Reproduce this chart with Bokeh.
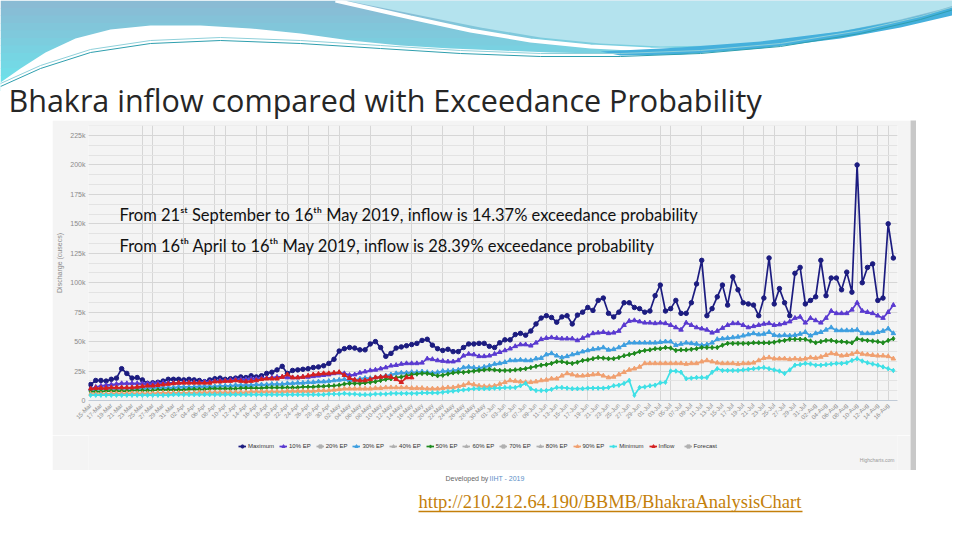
import pandas as pd
from bokeh.plotting import figure
from bokeh.layouts import column, row
from bokeh.models import Range1d, FixedTicker, Legend, LegendItem, Spacer
from bokeh.core.properties import value
from bokeh.embed import file_html
from bokeh.resources import INLINE

# ---------------- data (thousand cusecs) ----------------
start_date = "2019-03-15"
n_days = 156
date_labels = [d.strftime("%d-%b") for d in pd.date_range(start_date, periods=n_days, freq="D")]

maximum = [13.5, 17, 17, 16.5, 18, 19, 27, 23, 19, 19.5,
           17.5, 14.5, 15, 15.5, 16.5, 18, 18, 18, 17.5, 18,
           17.5, 17, 16, 17.5, 18.5, 19, 18, 18.5, 19, 20,
           19.5, 21, 20, 21, 23, 24, 26, 29, 23, 25.5,
           26, 26.5, 27, 28, 28.5, 29.5, 31.5, 35, 42, 44,
           45, 44.5, 43, 43, 48, 50, 45, 37.5, 40, 44.5,
           45.5, 46.5, 47.5, 48.5, 51, 52, 47, 44, 42.5, 43.5,
           41.5, 41.5, 45, 48, 48, 48.5, 48.5, 46, 45, 49,
           51.5, 51.5, 56, 57, 55.5, 59, 65, 70, 72, 70.5,
           66.5, 71, 72, 65, 72.5, 75, 79, 76.5, 85, 87,
           74, 71, 75, 83, 83, 79, 78, 75, 76, 89,
           98, 76, 78, 85, 74, 74, 83, 99, 119, 72,
           78, 88, 98, 81, 105, 94, 83, 82, 81, 72,
           87, 121, 82, 95, 83, 72, 108, 113, 82, 85,
           88, 119, 89, 104, 104, 94, 109, 92, 200, 100,
           113, 116, 85, 87, 150, 121]

ep10 = [10, 11.5, 12.5, 13, 13.5, 14, 14.5, 14.5, 14.5, 14.5,
        14.5, 14.5, 14.5, 15, 15, 15, 15, 15, 15.5, 15.5,
        15.5, 15.5, 16, 16, 16.5, 17, 17, 17.5, 18, 18,
        18, 18.5, 18.5, 19, 19, 19.5, 20, 20, 19.5, 19.5,
        19.5, 20, 20, 20.5, 21, 21.5, 22, 23, 23.5, 23,
        21.5, 22, 23.5, 24.5, 25.5, 26, 27, 28, 29.5, 30,
        31, 31.5, 31.5, 31.5, 32, 35.5, 35, 34, 33.5, 33,
        33, 34, 38, 39.5, 39, 37.5, 37.5, 38, 39.5, 41,
        42.5, 44, 46, 47.5, 47.5, 46.5, 49, 52, 53, 53.5,
        53, 52.5, 52.5, 52.5, 51, 53, 55, 57, 57.5, 58,
        57, 57.5, 59, 64, 67.5, 68, 67, 66, 66, 65.5,
        66, 65.5, 64, 62, 60, 66, 64, 62, 61, 60,
        57.5, 59, 61.5, 64, 65.5, 65.5, 64, 62, 63, 64,
        65, 65.5, 64, 64.5, 65.5, 67, 70, 71, 66, 70,
        68, 66, 70, 76, 74, 74, 74, 77, 83, 76,
        75, 74, 72, 70, 75, 81]

ep30 = [9.5, 9.5, 10, 10, 10, 10, 10.5, 10.5, 10.5, 10.5,
        10.5, 10.5, 11, 11, 11, 11, 11, 11.5, 11.5, 11.5,
        11.5, 12, 12, 12, 12, 12.5, 12.5, 12.5, 13, 13,
        13, 13, 13.5, 13.5, 13.5, 14, 14, 14, 14.5, 14.5,
        15, 15, 15.5, 15.5, 16, 16, 16.5, 17, 17.5, 18,
        17, 17.5, 18.5, 19, 19, 19.5, 20, 21, 22, 23,
        23.5, 23.5, 24, 24, 24.5, 24, 23.5, 24, 25, 25,
        25.5, 26, 28, 28.5, 28, 27.5, 28.5, 29.5, 31, 31.5,
        32.5, 34, 34, 34.5, 34, 34, 35.5, 36, 39, 40,
        38, 36.5, 37.5, 39, 40, 41.5, 42.5, 43.5, 44, 45,
        43, 43.5, 45, 47, 49, 49, 49, 49, 49, 49,
        49.5, 50, 50, 47, 48, 49, 48.5, 48, 47, 47.5,
        49, 52, 52.5, 53, 53.5, 54, 55, 56, 57, 56,
        56.5, 58, 55.5, 55, 55.5, 55, 55.5, 56.5, 58, 55,
        57, 58, 60, 62, 59.5, 59.5, 59.5, 59.5, 60, 57,
        57, 57, 58, 59, 61, 57]

ep50 = [7.5, 7.5, 7.5, 8, 8, 8, 8, 8, 8.5, 8.5,
        8.5, 8.5, 8.5, 9, 9, 9, 9, 9, 9, 9.5,
        9.5, 9.5, 9.5, 10, 10, 10, 10, 10, 10, 10.5,
        10.5, 10.5, 10.5, 10.5, 11, 11, 11, 11, 11, 11,
        11, 11.5, 11.5, 11.5, 12, 12, 12.5, 12.5, 13, 14,
        14.5, 14.5, 14.5, 15, 15.5, 16, 17, 18, 18.5, 19.5,
        20, 21, 22, 22.5, 23, 23, 22, 21, 21.5, 22.5,
        23.5, 24, 24, 24.5, 25, 25.5, 26, 26.5, 26, 25.5,
        25.5, 25.5, 26, 26.5, 27, 28, 29, 30, 30.5, 31.5,
        33, 33, 32, 31.5, 32.5, 34, 34.5, 35.5, 36.5, 36,
        35.5, 35.5, 36.5, 38, 39, 40, 41.5, 42.5, 43, 44,
        44, 45, 44.5, 42.5, 43, 43, 43.5, 44, 45, 45,
        45, 45, 47, 48.5, 48.5, 48.5, 48.5, 48.5, 49, 49,
        49, 49, 49.5, 50.5, 51, 52, 52, 52, 52, 50.5,
        49, 50, 51, 51, 50, 50, 49.5, 49, 52.5, 51.5,
        51, 50.5, 50, 49, 51, 52.5]

ep90 = [5.5, 5.5, 5.5, 5.5, 6, 6, 6, 6, 6, 6,
        6, 6, 6, 6.5, 6.5, 6.5, 6.5, 6.5, 6.5, 6.5,
        6.5, 7, 7, 7, 7, 7, 7, 7, 7, 7,
        7, 7.5, 7.5, 7.5, 7.5, 7.5, 7.5, 7.5, 8, 8,
        8, 8, 8, 8, 8.5, 8.5, 8.5, 9, 9.5, 10,
        10, 10, 10, 10, 10, 10.5, 10.5, 11, 11, 11,
        11, 11, 10.5, 10.5, 10.5, 10, 10, 10, 10.5, 11,
        11, 12, 13, 14.5, 13.5, 12.5, 12, 12, 12.5, 14,
        15.5, 17, 16.5, 16, 15.5, 15.5, 16, 17, 17.5, 18.5,
        18.5, 21, 23, 22, 21, 21, 21.5, 22, 22.5, 21,
        19.5, 20, 22, 24, 26, 27, 28.5, 31.5, 31.5, 31.5,
        31.5, 31.5, 31.5, 31.5, 31.5, 31, 31.5, 31.5, 33, 34,
        33, 32, 31.5, 31.5, 31.5, 31, 31.5, 31.5, 32, 34,
        36, 36.5, 35.5, 35.5, 35.5, 35, 35.5, 35, 35.5, 36.5,
        36, 37, 38.5, 40, 39.5, 38, 38.5, 39.5, 41, 39.5,
        39, 38.5, 38, 38, 37.5, 35.5]

minimum = [4.5, 4.5, 4.5, 4.5, 4.5, 4.5, 4.5, 4.5, 4.5, 4.5,
           4.5, 4.5, 4.5, 4.5, 4.5, 4.5, 5, 5, 5, 5,
           5, 5, 5, 5, 5, 5, 5, 5, 5, 5,
           5, 5, 5, 5, 5, 5, 5, 5, 5, 5,
           5, 5, 5, 5, 5, 5, 5.5, 5.5, 5.5, 6,
           5.5, 5.5, 5, 5, 5, 5.5, 5.5, 5.5, 6, 6,
           6, 6, 6, 6, 6.5, 6.5, 6.5, 6.5, 7, 7.5,
           8, 8.5, 9, 9.5, 10, 10, 10, 10, 10.5, 10.5,
           11, 11, 11, 12.5, 14.5, 10, 8.5, 8.5, 8.5, 9.5,
           11, 11, 10.5, 10, 10, 10, 10.5, 10.5, 10.5, 10.5,
           11, 12.5, 13, 14.5, 17, 4.5, 11, 11.5, 12.5, 13,
           15, 15.5, 25, 25, 24, 18.5, 19, 19.5, 19.5, 19.5,
           24, 27, 25.5, 25.5, 25.5, 25.5, 26, 26.5, 27, 27.5,
           28, 27, 26, 25, 23, 26, 30, 30.5, 31.5, 31,
           30, 30, 30.5, 31, 31.5, 31.5, 32, 34, 35.5, 33.5,
           32, 31, 30, 28.5, 27, 25.5]

inflow = [10, 10.5, 10.5, 10.5, 11, 11, 11, 11, 11, 11.5,
          12, 12.5, 12.5, 13, 13.5, 14, 14.5, 15, 15, 15,
          15, 15, 15, 15, 16, 16, 16.5, 16.5, 17, 16.5,
          16, 16.5, 17, 18, 18.5, 18.5, 18.5, 20, 22, 19.5,
          19.5, 20, 21, 22, 22.5, 23, 23, 23.5, 24, 21.5,
          19, 17.5, 17, 17, 18, 19.5, 20, 20.5, 20, 18,
          15.5, 19.5, 19.5]

y_ticks = [0, 25, 50, 75, 100, 125, 150, 175, 200, 225]
y_tick_labels = ["0", "25k", "50k", "75k", "100k", "125k", "150k", "175k", "200k", "225k"]

note1 = "From 21\u02e2\u1d57 September to 16\u1d57\u02b0 May 2019, inflow is 14.37% exceedance probability"
note2 = "From 16\u1d57\u02b0 April to 16\u1d57\u02b0 May 2019, inflow is 28.39% exceedance probability"

# ---------------- header (slide banner + title) ----------------
hdr = figure(width=952, height=120, x_range=Range1d(0, 952), y_range=Range1d(120, 0),
             x_axis_type=None, y_axis_type=None, output_backend="svg",
             toolbar_location=None, min_border=0)
hdr.grid.visible = False
hdr.outline_line_color = None
hdr.background_fill_color = "white"
hdr.border_fill_color = "white"

top_c = (0x8a, 0xbb, 0xd4)
bot_c = (0x6c, 0xe4, 0xec)
nstr = 12
cols = []
for k in range(nstr):
    t = k / (nstr - 1)
    c = tuple(int(top_c[j] + (bot_c[j] - top_c[j]) * t) for j in range(3))
    cols.append("#%02x%02x%02x" % c)
hdr.quad(left=[0] * nstr, right=[960] * nstr, top=[k * 7.5 for k in range(nstr)],
         bottom=[(k + 1) * 7.5 + 0.6 for k in range(nstr)], fill_color=cols, line_color=None)

blob_x = [345, 420, 480, 540, 600, 660, 720, 780, 840, 900, 940, 960, 960]
blob_y = [0, 15, 27, 37, 43, 46, 45, 40, 31, 19, 9, 3, 0]
hdr.patch(blob_x, blob_y, fill_color="#b4e3ee", line_color=None)
hdr.line([335, 410, 470, 530, 590, 650, 700], [0, 17, 30, 40, 46, 49, 50], line_color="white", line_width=4)

bx = [0, 20, 45, 75, 110, 150, 200, 250, 300, 350, 400, 450, 500, 550, 600, 650, 700, 750, 800, 850, 900, 940, 960]
by = [82, 68, 52, 38, 29, 25, 25, 28, 33, 40, 45, 48, 50, 52, 53, 52, 50, 46, 41, 33, 23, 13, 6]
hdr.patch(bx + [960, 0], by + [125, 125], fill_color="white", line_color=None)

sw_x = [600, 680, 760, 840, 900, 960, 960, 900, 840, 760, 680, 620]
sw_y = [51, 47, 41, 31, 20, 5, 13, 27, 38, 48, 54, 55]
hdr.patch(sw_x, sw_y, fill_color="#45b0dc", line_color=None)

tx = [0, 40, 90, 150, 220, 300, 380, 460, 540, 620, 700, 780, 860, 920, 960]
ty = [86, 68, 52, 43, 40, 43, 48, 53, 56, 56, 53, 46, 33, 19, 7]
hdr.line(tx, ty, line_color="#2f9fae", line_width=1)
hdr.line(tx, [v - 3 for v in ty], line_color="#8fd0da", line_width=1)

hdr.text(x=[8], y=[99], text=["Bhakra inflow compared with Exceedance Probability"],
         text_font=value("Open Sans"), text_font_size="30.5px", text_baseline="middle",
         text_align="left", text_color="#262626")

# ---------------- chart ----------------
p = figure(width=858, height=315, x_range=Range1d(-0.4, 155.8), y_range=Range1d(0, 233.5),
           output_backend="svg", toolbar_location=None,
           min_border_left=36, min_border_right=13, min_border_top=5, min_border_bottom=35)
p.background_fill_color = "#f4f4f4"
p.border_fill_color = "#f4f4f4"
p.outline_line_color = None

p.yaxis.ticker = FixedTicker(ticks=y_ticks,
                             minor_ticks=[v * 25 / 3 for v in range(0, 29)])
p.yaxis.major_label_overrides = {t: l for t, l in zip(y_ticks, y_tick_labels)}
p.yaxis.axis_line_color = None
p.yaxis.major_tick_line_color = None
p.yaxis.minor_tick_line_color = None
p.yaxis.major_tick_out = 0
p.yaxis.minor_tick_out = 0
p.yaxis.major_label_standoff = 3
p.yaxis.major_label_text_font_size = "7px"
p.yaxis.major_label_text_color = "#8a8a8a"
p.yaxis.axis_label = "Discharge (cusecs)"
p.yaxis.axis_label_text_font_size = "7px"
p.yaxis.axis_label_text_font_style = "normal"
p.yaxis.axis_label_text_color = "#8a8a8a"
p.yaxis.axis_label_standoff = 4
p.ygrid.grid_line_color = "#d6d6d6"
p.ygrid.minor_grid_line_color = "#e3e3e3"

x_ticks = list(range(0, n_days, 2))
p.xaxis.ticker = FixedTicker(ticks=x_ticks)
p.xaxis.major_label_overrides = {i: date_labels[i] for i in x_ticks}
p.xaxis.major_label_orientation = 0.8
p.xaxis.major_label_text_font_size = "6px"
p.xaxis.major_label_text_color = "#8a8a8a"
p.xaxis.axis_line_color = "#c0cad6"
p.xaxis.major_tick_line_color = None
p.xaxis.minor_tick_line_color = None
p.xaxis.major_tick_out = 0
p.xaxis.minor_tick_out = 0
p.xaxis.major_label_standoff = 4
vgrid_idx = [10, 12, 18, 24, 26, 32, 34, 38, 42, 46, 48, 54, 62, 68, 74, 80, 88, 96,
             110, 112, 118, 126, 130, 132, 138, 144, 148, 152, 154]
p.xgrid.ticker = FixedTicker(ticks=vgrid_idx)
p.xgrid.grid_line_color = "#d6d6d6"

series = [
    ("Maximum", maximum, "#1c1c80", "circle"),
    ("10% EP", ep10, "#5a3ad0", "triangle"),
    ("20% EP", None, "#b0b0b0", "square"),
    ("30% EP", ep30, "#3e9fe0", "triangle"),
    ("40% EP", None, "#b0b0b0", "triangle"),
    ("50% EP", ep50, "#1e8a1e", "diamond"),
    ("60% EP", None, "#b0b0b0", "triangle"),
    ("70% EP", None, "#b0b0b0", "square"),
    ("80% EP", None, "#b0b0b0", "triangle"),
    ("90% EP", ep90, "#f0a070", "triangle"),
    ("Minimum", minimum, "#3ee0e6", "diamond"),
    ("Inflow", inflow, "#d42020", "triangle"),
    ("Forecast", None, "#b0b0b0", "square"),
]

for name, vals, col, mk in series:
    if vals is None:
        continue
    xs = list(range(len(vals)))
    p.line(xs, vals, line_color=col, line_width=1.7)
    p.scatter(xs, vals, marker=mk, size=4.5, fill_color=col, line_color=col)

p.text(x=[5.6, 5.6], y=[157.1, 131.6], text=[note1, note2],
       text_font=value("Lato"), text_font_size="16.5px", text_baseline="middle",
       text_align="left", text_color="#111111")

# ---------------- legend strip (same series styles, keys only) ----------------
lg = figure(width=858, height=35, x_range=Range1d(52, 910), y_range=Range1d(470, 435),
            x_axis_type=None, y_axis_type=None, output_backend="svg",
            toolbar_location=None, min_border=0)
lg.grid.visible = False
lg.outline_line_color = None
lg.background_fill_color = "#f4f4f4"
lg.border_fill_color = "#f4f4f4"
items = []
for name, vals, col, mk in series:
    # key glyphs only: one point placed far outside the visible range
    ln = lg.line([-1000, -999], [0, 0], line_color=col, line_width=1.7)
    sc = lg.scatter([-1000], [0], marker=mk, size=4.5, fill_color=col, line_color=col)
    items.append(LegendItem(label=name, renderers=[ln, sc]))
legend = Legend(items=items, orientation="horizontal", location=(150, 20),
                label_text_font_size="6px", label_text_color="#333333",
                label_text_font="Liberation Sans",
                glyph_width=8, glyph_height=8, label_standoff=2, spacing=5,
                padding=0, margin=0, background_fill_alpha=0, border_line_color=None,
                label_height=8, inactive_fill_color="#f4f4f4", inactive_fill_alpha=0.75)
lg.add_layout(legend, "center")
for it, (name, vals, col, mk) in zip(items, series):
    if vals is None:
        for r in it.renderers:
            r.visible = False
lg.text(x=[870], y=[459], text=["Highcharts.com"], text_font_size="5px",
        text_color="#999999", text_baseline="middle")

chart_col = column(p, lg)

scroll = figure(width=6, height=350, x_axis_type=None, y_axis_type=None,
                output_backend="svg", toolbar_location=None, min_border=0)
scroll.background_fill_color = "#c8c8c8"
scroll.border_fill_color = "#c8c8c8"
scroll.outline_line_color = None
scroll.grid.visible = False

# ---------------- footer ----------------
ftr = figure(width=952, height=62, x_range=Range1d(0, 952), y_range=Range1d(532, 470),
             x_axis_type=None, y_axis_type=None, output_backend="svg",
             toolbar_location=None, min_border=0)
ftr.grid.visible = False
ftr.outline_line_color = None
ftr.background_fill_color = "white"
ftr.border_fill_color = "white"
ftr.text(x=[445], y=[478], text=["Developed by"], text_font_size="7px",
         text_color="#666666", text_baseline="middle")
ftr.text(x=[489], y=[478], text=["IIHT - 2019"], text_font_size="7px",
         text_color="#5b8fc7", text_baseline="middle")
ftr.text(x=[418], y=[501], text=["http://210.212.64.190/BBMB/BhakraAnalysisChart"],
         text_font=value("Liberation Serif"), text_font_size="18.5px",
         text_color="#c47f0a", text_baseline="middle")
ftr.line([418, 802], [511, 511], line_color="#c47f0a", line_width=1.5)

layout = column(hdr, row(Spacer(width=52, height=350), chart_col, scroll), ftr)
open("out.html", "w").write(file_html(layout, INLINE))
